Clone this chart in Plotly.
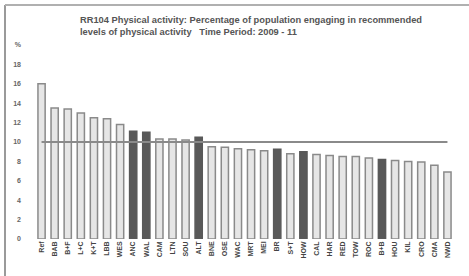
import plotly.graph_objects as go

categories = ["Ref", "BAB", "B+F", "L+C", "K+T", "LBB", "WES", "ANC", "WAL", "CAM",
              "LTN", "SOU", "ALT", "BNE", "OSE", "WAC", "MRT", "MEI", "BR", "S+T",
              "HOW", "CAL", "HAR", "RED", "TOW", "ROC", "B+B", "HOU", "KIL", "CRO",
              "CMA", "NWD"]
values = [16.0, 13.5, 13.4, 13.0, 12.5, 12.4, 11.8, 11.1, 11.0, 10.3,
          10.3, 10.2, 10.5, 9.5, 9.45, 9.3, 9.2, 9.1, 9.25, 8.8,
          9.0, 8.7, 8.6, 8.5, 8.5, 8.35, 8.2, 8.1, 8.0, 7.95,
          7.6, 6.9]
highlighted = ["ANC", "WAL", "ALT", "BR", "HOW", "B+B"]
reference_value = 10.0
ytick_vals = [0, 2, 4, 6, 8, 10, 12, 14, 16, 18, 20]
ytick_text = ["0", "2", "4", "6", "8", "10", "12", "14", "16", "18", "%"]
title_text = ("RR104 Physical activity: Percentage of population engaging in recommended<br>"
              "levels of physical activity   Time Period: 2009 - 11")

fill_colors = ["#595959" if c in highlighted else "#e6e6e6" for c in categories]
line_colors = ["#595959" if c in highlighted else "#8a8a8a" for c in categories]

fig = go.Figure()
fig.add_trace(go.Bar(
    x=categories, y=values,
    marker=dict(color=fill_colors, line=dict(color=line_colors, width=1.5)),
    showlegend=False, hoverinfo="x+y",
))
fig.add_trace(go.Scatter(
    x=categories, y=[reference_value] * len(categories),
    mode="lines", line=dict(color="#8a8a8a", width=2),
    showlegend=False, hoverinfo="skip",
))

# plot area: x 35..454 px, y 45..239 px
L, R, T, B = 35, 15, 45, 37
W, H = 469 - L - R, 276 - T - B
def px(x):
    return (x - L) / W
def py(y):
    return (276 - B - y) / H

fig.update_layout(
    width=469, height=276,
    margin=dict(l=L, r=R, t=T, b=B, autoexpand=False),
    paper_bgcolor="white", plot_bgcolor="white",
    bargap=0.45,
    font=dict(family="Liberation Sans, Arial, sans-serif", color="#555555"),
    title=dict(text="<b>" + title_text + "</b>", xref="container", x=80 / 469, xanchor="left",
               yref="container", y=1 - 23 / 276, yanchor="top",
               font=dict(size=9.3, color="#555555")),
    xaxis=dict(type="category", range=[-0.5, len(categories) - 0.5], automargin=False,
               showgrid=False, showline=False, zeroline=False, ticks="",
               tickangle=-90, tickfont=dict(size=7, color="#444444"),
               tickprefix="<b>", ticksuffix="</b>"),
    yaxis=dict(range=[0, 20], tickvals=ytick_vals, ticktext=["<b>" + t + "</b>" for t in ytick_text],
               automargin=False,
               showgrid=False, showline=False, zeroline=False, ticks="",
               ticklabelstandoff=13,
               tickfont=dict(size=7, color="#666666")),
    shapes=[
        dict(type="line", xref="paper", yref="paper", x0=px(5), x1=px(5), y0=py(5), y1=py(276),
             line=dict(color="#9a9a9a", width=2)),
        dict(type="line", xref="paper", yref="paper", x0=px(5), x1=px(469), y0=py(5), y1=py(5),
             line=dict(color="#b0b0b0", width=2)),
    ],
)

fig.write_html("out.html", config={"displayModeBar": False},
               post_script="document.body.style.margin='0px';")
